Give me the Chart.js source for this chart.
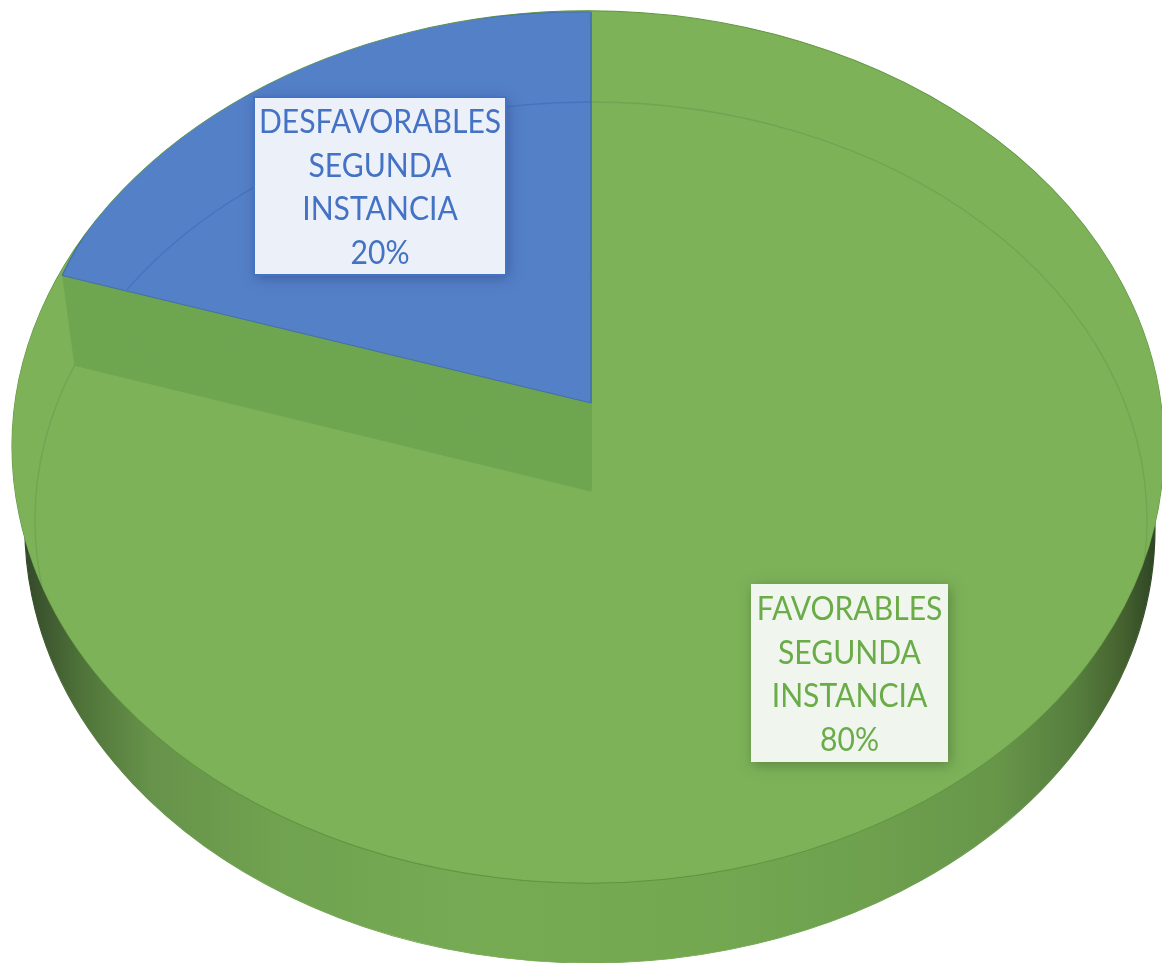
<!DOCTYPE html>
<html>
<head>
<meta charset="utf-8">
<style>
  html, body { margin: 0; padding: 0; background: #fff; }
  canvas { display: block; }
</style>
<script src="https://cdn.jsdelivr.net/npm/chart.js@4"></script>
</head>
<body>
<canvas id="chart" width="1162" height="963"></canvas>
<script>
// ---------------- DATA ----------------

const categories = ["FAVORABLES SEGUNDA INSTANCIA", "DESFAVORABLES SEGUNDA INSTANCIA"];
const values = [80, 20];
const labelLines = [
  ["FAVORABLES", "SEGUNDA", "INSTANCIA"],
  ["DESFAVORABLES", "SEGUNDA", "INSTANCIA"]
];

// ---------------- STYLE ----------------

const GREEN = "#7db259";
const BLUE = "#5480c8";
const WALL_GREEN = "#6fa651";

const FACE = { x: 588, y: 447, rx: 575, ry: 435 };
const SIDE = { x: 590, y: 528, rx: 565, ry: 435 };
const BLUE_TOP = { x: 591, y: 403, rx: 556, ry: 391, shear: 7 };
const BLUE_LOW = { x: 591, y: 491, rx: 543, ry: 391, shear: 5 };
const RING = { x: 591, y: 520, rx: 556, ry: 418 };

const sideStops = [
  [0, "#34492a"], [0.05, "#4f7339"], [0.11, "#66924a"], [0.22, "#70a24f"],
  [0.4, "#76ab54"], [0.6, "#73a851"], [0.75, "#6ea04e"], [0.86, "#679649"],
  [0.93, "#567e3e"], [0.97, "#46632f"], [1, "#2f4525"]
];

const boxes = [
  { x: 751, y: 584, w: 197, h: 178, fill: "#f0f5ee", border: null, text: "#6aac48", cx: 849.5, base: 620, shadow: "rgba(60,90,40,0.5)" },
  { x: 254, y: 97, w: 252, h: 178, fill: "#ecf0f9", border: "#4472c4", text: "#4472c4", cx: 380, base: 133, shadow: "rgba(40,60,120,0.5)" }
];

// ---------------- 3D LAYERS ----------------

// draw a chart.js arc squeezed on to an ellipse
function drawArc(ctx, el, R, box, over) {
  const opts = el.options;
  ctx.save();
  ctx.translate(box.x, box.y);
  ctx.transform(box.rx / R, (box.shear || 0) / R, 0, box.ry / R, 0, 0);
  ctx.translate(-el.x, -el.y);
  el.options = { ...opts, ...over };
  el.draw(ctx);
  el.options = opts;
  ctx.restore();
}

function clipFace(ctx) {
  ctx.beginPath();
  ctx.ellipse(FACE.x, FACE.y, FACE.rx + 1, FACE.ry + 1, 0, 0, Math.PI * 2);
  ctx.clip();
}

function strokeRing(ctx, from, to, color) {
  ctx.beginPath();
  ctx.ellipse(RING.x, RING.y, RING.rx, RING.ry, 0, from, to);
  ctx.strokeStyle = color;
  ctx.lineWidth = 1.3;
  ctx.stroke();
}

const pie3d = {
  id: "pie3d",
  beforeDatasetsDraw(chart) {
    const ctx = chart.ctx;
    const arcs = chart.getDatasetMeta(0).data;
    const R = arcs[0].outerRadius;
    const cx = arcs[0].x;

    // side wall
    const grad = ctx.createLinearGradient(cx - R, 0, cx + R, 0);
    sideStops.forEach(s => grad.addColorStop(s[0], s[1]));
    arcs.forEach(a => drawArc(ctx, a, R, SIDE, {
      backgroundColor: grad, borderColor: grad, borderWidth: 1
    }));

    // dark rim under the face
    const rim = { x: FACE.x, y: FACE.y, rx: FACE.rx + 0.8, ry: FACE.ry + 1.2 };
    arcs.forEach(a => drawArc(ctx, a, R, rim, {
      backgroundColor: "#5f9440", borderColor: "#5f9440", borderWidth: 1
    }));

    // top face
    arcs.forEach(a => drawArc(ctx, a, R, FACE, {
      backgroundColor: GREEN, borderColor: GREEN, borderWidth: 1.5
    }));

    ctx.save();
    clipFace(ctx);

    // faint see-through outline on the green part
    strokeRing(ctx, 0, Math.PI * 2, "rgba(50,110,60,0.18)");

    // wall under the raised slice
    const blue = arcs[1];
    for (let t = 0; t <= 1; t += 0.02) {
      const step = {
        x: BLUE_LOW.x,
        y: BLUE_LOW.y + (BLUE_TOP.y - BLUE_LOW.y) * t,
        rx: BLUE_LOW.rx + (BLUE_TOP.rx - BLUE_LOW.rx) * t,
        ry: BLUE_LOW.ry,
        shear: BLUE_LOW.shear + (BLUE_TOP.shear - BLUE_LOW.shear) * t
      };
      drawArc(ctx, blue, R, step, {
        backgroundColor: WALL_GREEN, borderColor: WALL_GREEN, borderWidth: 1
      });
    }

    // raised slice
    drawArc(ctx, blue, R, BLUE_TOP, {
      backgroundColor: BLUE, borderColor: "#4472a8", borderWidth: 1.4
    });

    // the same outline where it crosses the blue slice
    strokeRing(ctx, -2.558, -Math.PI / 2, "rgba(50,90,170,0.35)");
    ctx.restore();

    return false;
  },
  afterDraw(chart) {
    const ctx = chart.ctx;
    boxes.forEach((b, i) => {
      ctx.save();
      ctx.shadowColor = b.shadow;
      ctx.shadowBlur = 12;
      ctx.shadowOffsetX = 2;
      ctx.shadowOffsetY = 3;
      ctx.fillStyle = b.fill;
      ctx.fillRect(b.x, b.y, b.w, b.h);
      ctx.restore();
      if (b.border) {
        ctx.strokeStyle = b.border;
        ctx.lineWidth = 2;
        ctx.strokeRect(b.x, b.y, b.w, b.h);
      }
      ctx.fillStyle = b.text;
      ctx.font = "32px Lato";
      ctx.textAlign = "center";
      ctx.textBaseline = "alphabetic";
      const lines = labelLines[i].concat(values[i] + "%");
      lines.forEach((line, n) => {
        // Lato runs wider than the original face, squeeze to the same width
        ctx.fillText(line, b.cx, b.base + n * 43.7, ctx.measureText(line).width * 0.94);
      });
    });
  }
};

// ---------------- CHART ----------------

new Chart(document.getElementById("chart").getContext("2d"), {
  type: "pie",
  data: {
    labels: categories,
    datasets: [{ data: values, backgroundColor: [GREEN, BLUE], borderWidth: 0 }]
  },
  options: {
    responsive: false,
    animation: false,
    layout: { padding: 0 },
    plugins: { legend: { display: false }, tooltip: { enabled: false } }
  },
  plugins: [pie3d]
});
</script>
</body>
</html>
